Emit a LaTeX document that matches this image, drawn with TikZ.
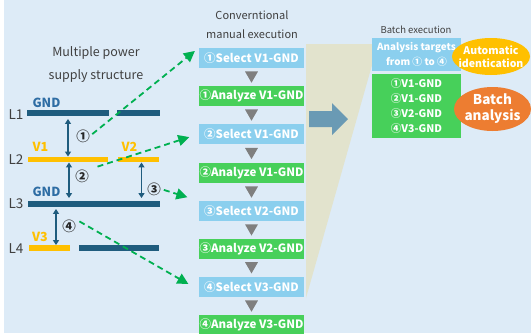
\documentclass[tikz,border=0pt]{standalone}
\usepackage{fontspec}
\setmainfont{Noto Sans CJK JP}
\usetikzlibrary{arrows.meta, shapes.geometric, calc}
\definecolor{bgblue}{HTML}{DDEBF7}
\definecolor{railblue}{HTML}{1F5C7E}
\definecolor{gndblue}{HTML}{2E6DA4}
\definecolor{powerorange}{HTML}{FFC000}
\definecolor{selectblue}{HTML}{8BCFEE}
\definecolor{analyzegreen}{HTML}{47D05A}
\definecolor{jumpgreen}{HTML}{00B050}
\definecolor{flowgray}{HTML}{7F7F7F}
\definecolor{shiftblue}{HTML}{6A9AB4}
\definecolor{funnelbeige}{HTML}{E2E3CD}
\definecolor{batchorange}{HTML}{ED7D31}
\definecolor{textgray}{HTML}{404040}

\begin{document}
\begin{tikzpicture}[
  x=1pt, y=-1pt,
  title/.style={align=center, inner sep=0, text=textgray},
  layerlabel/.style={inner sep=0, text=textgray, font=\fontsize{13.5}{13.5}\selectfont},
  gndtext/.style={inner sep=0, text=gndblue, font=\fontsize{12.5}{12.5}\selectfont\bfseries},
  vtext/.style={inner sep=0, text=powerorange, font=\fontsize{12.5}{12.5}\selectfont\bfseries},
  rail/.style={rectangle, fill=railblue, inner sep=0, minimum height=5.5pt},
  power/.style={rectangle, fill=powerorange, inner sep=0, minimum height=5.5pt},
  gaparrow/.style={{Triangle[length=5pt, width=6pt]}-{Triangle[length=5pt, width=6pt]}, draw=railblue, line width=1.6pt},
  num/.style={inner sep=0, text=black!85, font=\fontsize{13.5}{13.5}\selectfont\bfseries},
  jumparrow/.style={-{Triangle[length=11pt, width=11pt]}, draw=jumpgreen, line width=1.8pt, dash pattern=on 6pt off 4pt},
  selectbox/.style={rectangle, fill=selectblue, text=white, minimum width=105pt, minimum height=20pt, inner sep=0, font=\fontsize{11.5}{11.5}\selectfont\bfseries},
  analyzebox/.style={selectbox, fill=analyzegreen},
  flowtri/.style={regular polygon, regular polygon sides=3, shape border rotate=180, fill=flowgray, minimum size=15pt, inner sep=0},
  batchbox/.style={rectangle, text=white, minimum width=89pt, inner sep=0, align=center, font=\fontsize{10.5}{15}\selectfont\bfseries},
  bubble/.style={ellipse, inner sep=0}
]
  % Canvas
  \useasboundingbox (0,0) rectangle (531,333);
  \fill[bgblue] (4,0) rectangle (531,333);

  % Layer stack
  \node[title, font=\fontsize{12.5}{23}\selectfont] (stacktitle) at (96,64.5) {Multiple power\\supply structure};
  \node[layerlabel] (ln1) at (16,115) {L1};
  \node[layerlabel] (ln2) at (16,160) {L2};
  \node[layerlabel] (ln3) at (16,204) {L3};
  \node[layerlabel] (ln4) at (16,249) {L4};

  \node[rail, minimum width=82pt] (l1a) at (68,113) {};
  \node[rail, minimum width=43pt] (l1b) at (138.5,113) {};
  \node[power, minimum width=80pt] (l2a) at (68,159.5) {};
  \node[power, minimum width=41pt] (l2b) at (138.5,159.5) {};
  \node[rail, minimum width=132pt] (l3) at (94,204) {};
  \node[power, minimum width=41pt] (l4a) at (49.5,248) {};
  \node[rail, minimum width=80pt] (l4b) at (119,248) {};

  \node[gndtext] (gnd1) at (46.5,103) {GND};
  \node[vtext] (v1) at (40.5,147) {V1};
  \node[vtext] (v2) at (129.5,147) {V2};
  \node[gndtext] (gnd3) at (46.5,192) {GND};
  \node[vtext] (v3) at (40,237) {V3};

  % Gaps between layers
  \draw[gaparrow, shorten <=3pt] (l1a) -- (l2a);
  \draw[gaparrow, shorten >=3pt] ([xshift=1pt]l2a.south) -- ([xshift=1pt]l2a.south |- l3.north);
  \draw[gaparrow, shorten >=3pt] ([xshift=3pt]l2b.south) -- ([xshift=3pt]l2b.south |- l3.north);
  \draw[gaparrow, shorten <=2pt] ([xshift=6.5pt]l4a.north |- l3.south) -- ([xshift=6.5pt]l4a.north);

  \node[num] (n1) at (83,136) {①};
  \node[num] (n2) at (82,176) {②};
  \node[num] (n3) at (154,189) {③};
  \node[num] (n4) at (69,226) {④};

  % Manual execution
  \fill[funnelbeige] (306,44) -- (378,44) -- (306,298) -- cycle;
  \node[title, font=\fontsize{11}{19}\selectfont] (manualtitle) at (252,24.5) {Converntional\\manual execution};

  \node[selectbox] (sel1) at (251.5,58) {①Select V1-GND};
  \node[analyzebox] (ana1) at (251.5,96) {①Analyze V1-GND};
  \node[selectbox] (sel2) at (251.5,134) {②Select V1-GND};
  \node[analyzebox] (ana2) at (251.5,173) {②Analyze V1-GND};
  \node[selectbox] (sel3) at (251.5,211) {③Select V2-GND};
  \node[analyzebox] (ana3) at (251.5,248.5) {③Analyze V2-GND};
  \node[selectbox] (sel4) at (251.5,287) {④Select V3-GND};
  \node[analyzebox] (ana4) at (251.5,325) {④Analyze V3-GND};

  \node[flowtri] (t1) at ($(sel1.south)!0.4!(ana1.north)$) {};
  \node[flowtri] (t2) at ($(ana1.south)!0.4!(sel2.north)$) {};
  \node[flowtri] (t3) at ($(sel2.south)!0.4!(ana2.north)$) {};
  \node[flowtri] (t4) at ($(ana2.south)!0.4!(sel3.north)$) {};
  \node[flowtri] (t5) at ($(sel3.south)!0.4!(ana3.north)$) {};
  \node[flowtri] (t6) at ($(ana3.south)!0.4!(sel4.north)$) {};
  \node[flowtri] (t7) at ($(sel4.south)!0.4!(ana4.north)$) {};

  % Jumps to the steps
  \draw[jumparrow, shorten <=3pt, shorten >=5pt] (n1.east) -- (sel1.north west);
  \draw[jumparrow, shorten <=9pt, shorten >=10pt] (n2.north east) -- (sel2.west);
  \draw[jumparrow, shorten <=3pt, shorten >=12pt] (n3.east) -- (sel3.north west);
  \draw[jumparrow, shorten <=4pt, shorten >=12pt] (n4.north east) -- ([yshift=-3pt]sel4.west);

  % Shift to batch
  \fill[shiftblue] (309,111) -- (332,111) -- (332,103) -- (348,119) -- (332,135) -- (332,127) -- (309,127) -- cycle;

  % Batch execution
  \node[title, font=\fontsize{9.5}{9.5}\selectfont] (batchtitle) at (416,30) {Batch execution};
  \node[batchbox, fill=selectblue, minimum height=33pt, font=\fontsize{9.8}{15}\selectfont\bfseries] (targets) at (416.5,54.5) {Analysis targets\\from ① to ④};
  \node[batchbox, fill=analyzegreen, minimum height=64pt] (batchlist) at (416.5,106) {①V1-GND\\②V1-GND\\③V2-GND\\④V3-GND};
  \node[bubble, fill=powerorange, minimum width=78pt, minimum height=37pt,
    label={[align=center, text=white, inner sep=0, font=\fontsize{10.5}{13}\selectfont\bfseries]center:Automatic\\identication}] (auto) at (491,56.5) {};
  \node[bubble, fill=batchorange, minimum width=77pt, minimum height=44pt,
    label={[align=center, text=white, inner sep=0, font=\fontsize{13.5}{16}\selectfont\bfseries]center:Batch\\analysis}] (batch) at (492.5,109) {};
\end{tikzpicture}
\end{document}
